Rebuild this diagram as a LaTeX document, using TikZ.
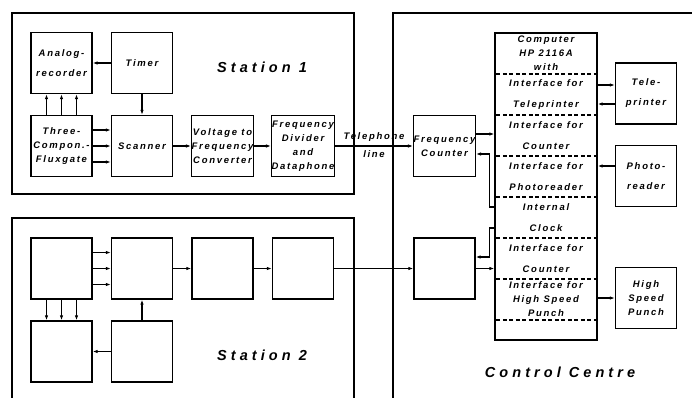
\documentclass[tikz,border=0pt]{standalone}
\usepackage{fontspec}
\setmainfont{Liberation Sans}
\newfontfamily\unitfont[LetterSpace=18]{Liberation Sans}
\newfontfamily\roomfont[LetterSpace=28]{Liberation Sans}
\usetikzlibrary{positioning,shapes,arrows.meta,calc}
\tikzstyle{unitbox}=[rectangle, draw=black, line width=1.3pt, minimum width=61pt, minimum height=61pt, inner sep=0pt, align=center, font=\unitfont\bfseries\itshape\fontsize{9.5}{14}\selectfont]
\tikzstyle{slot}=[align=center, inner sep=0pt, font=\unitfont\bfseries\itshape\fontsize{9.5}{14}\selectfont]
\tikzstyle{stationlabel}=[inner sep=0pt, font=\roomfont\bfseries\itshape\fontsize{14.5}{16}\selectfont]
\tikzstyle{roomline}=[line width=1.2pt]
\tikzstyle{partline}=[dash pattern=on 4pt off 2.5pt, line width=1.2pt]
\tikzstyle{flow}=[-{Latex[length=5pt,width=3.5pt]}, line width=1.3pt]

\begin{document}
\begin{tikzpicture}[x=1pt, y=1pt, node distance=80.5pt]
        \useasboundingbox (0,0) rectangle (692,-398);

        % Rooms
        \draw[roomline] (12,-13) rectangle (354,-194);
        \draw[roomline] (12,-398) -- (12,-218) -- (354,-218) -- (354,-398);
        \draw[roomline] (393,-398) -- (393,-13) -- (692,-13);

        % Station 1
        \node (analog1) [unitbox] at (61.5,-63) {Analog-\\[6pt]recorder};
        \node (timer1) [unitbox, right of=analog1] {Timer};
        \node (flux1) [unitbox, below of=analog1, node distance=83pt] {Three-\\Compon.-\\Fluxgate};
        \node (scanner1) [unitbox, right of=flux1] {Scanner};
        \node (vfc1) [unitbox, right of=scanner1] {Voltage to\\Frequency\\Converter};
        \node (divider1) [unitbox, right of=vfc1] {Frequency\\Divider\\and\\Dataphone};
        \node (station1) [stationlabel] at (262,-67) {Station 1};

        % Station 2
        \node (flux2) [unitbox] at (61.5,-268.5) {};
        \node (scanner2) [unitbox, right of=flux2] {};
        \node (vfc2) [unitbox, right of=scanner2] {};
        \node (divider2) [unitbox, right of=vfc2] {};
        \node (analog2) [unitbox, below of=flux2, node distance=83pt] {};
        \node (timer2) [unitbox, right of=analog2] {};
        \node (station2) [stationlabel] at (262,-355) {Station 2};

        % Control Centre
        \node (counter1) [unitbox] at (444.5,-146) {Frequency\\Counter};
        \node (counter2) [unitbox, below of=counter1, node distance=122.5pt] {};
        \node (computer) [draw=black, line width=1.3pt, minimum width=102pt, minimum height=307pt, inner sep=0pt] at (546,-186.5) {};
        \node (teleprinter) [unitbox] at (646,-93.5) {Tele-\\[6pt]printer};
        \node (photoreader) [unitbox, below of=teleprinter, node distance=82.5pt] {Photo-\\[6pt]reader};
        \node (punch) [unitbox] at (646,-298) {High\\Speed\\Punch};
        \node (centre) [stationlabel] at (560,-372) {Control Centre};

        % Computer sections
        \node (head) [slot] at (546,-53.5) {Computer\\HP 2116A\\with};
        \node (iftele) [slot, below of=head, node distance=41pt] {Interface for\\[7pt]Teleprinter};
        \node (ifcnt1) [slot, below of=iftele, node distance=41pt] {Interface for\\[7pt]Counter};
        \node (ifphoto) [slot, below of=ifcnt1, node distance=41pt] {Interface for\\[7pt]Photoreader};
        \node (clock) [slot, below of=ifphoto, node distance=41pt] {Internal\\[7pt]Clock};
        \node (ifcnt2) [slot, below of=clock, node distance=41pt] {Interface for\\[7pt]Counter};
        \node (ifpunch) [slot, below of=ifcnt2, node distance=41pt] {Interface for\\High Speed\\Punch};
        \foreach \s in {head,iftele,ifcnt1,ifphoto,clock,ifcnt2,ifpunch}
            \draw[partline] ($(computer.west |- \s)+(2,-20.5)$) -- ($(computer.east |- \s)+(-2,-20.5)$);

        % Station 1 connections
        \draw[flow] (timer1) -- (analog1);
        \draw[flow] (timer1) -- (scanner1);
        \foreach \d in {-15,0,15}
            \draw[flow] ([xshift=\d pt]flux1.north) -- ([xshift=\d pt]analog1.south);
        \foreach \d in {-16,0,16}
            \draw[flow] ([yshift=\d pt]flux1.east) -- ([yshift=\d pt]scanner1.west);
        \draw[flow] (scanner1) -- (vfc1);
        \draw[flow] (vfc1) -- (divider1);
        \draw[flow] (divider1) -- node (telephone) [slot, above=4pt] {Telephone} node (line) [slot, below=4pt] {line} (counter1);

        % Station 2 connections
        \draw[flow] (timer2) -- (analog2);
        \draw[flow] (timer2) -- (scanner2);
        \foreach \d in {-15,0,15}
            \draw[flow] ([xshift=\d pt]flux2.south) -- ([xshift=\d pt]analog2.north);
        \foreach \d in {-16,0,16}
            \draw[flow] ([yshift=\d pt]flux2.east) -- ([yshift=\d pt]scanner2.west);
        \draw[flow] (scanner2) -- (vfc2);
        \draw[flow] (vfc2) -- (divider2);
        \draw[flow] (divider2) -- (counter2);

        % Counters and clock
        \coordinate (cnt1out) at ($(counter1.east)+(0,12)$);
        \coordinate (clk1) at ($(clock)+(0,10.5)$);
        \coordinate (clk2) at ($(clock)+(0,-10.5)$);
        \draw[flow] (cnt1out) -- (cnt1out -| computer.west);
        \draw[flow] (clk1 -| computer.west) -- ++(-5,0) |- ($(counter1.east)+(0,-8)$);
        \draw[flow] (clk2 -| computer.west) -- ++(-5,0) |- ($(counter2.east)+(0,11.5)$);
        \draw[flow] (counter2) -- (counter2 -| computer.west);

        % Peripherals
        \coordinate (telein) at ($(teleprinter.west)+(0,8.5)$);
        \coordinate (teleout) at ($(teleprinter.west)+(0,-10.5)$);
        \coordinate (photoout) at ($(photoreader.west)+(0,10)$);
        \draw[flow] (computer.east |- telein) -- (telein);
        \draw[flow] (teleout) -- (computer.east |- teleout);
        \draw[flow] (photoout) -- (computer.east |- photoout);
        \draw[flow] (computer.east |- punch) -- (punch);

\end{tikzpicture}
\end{document}
